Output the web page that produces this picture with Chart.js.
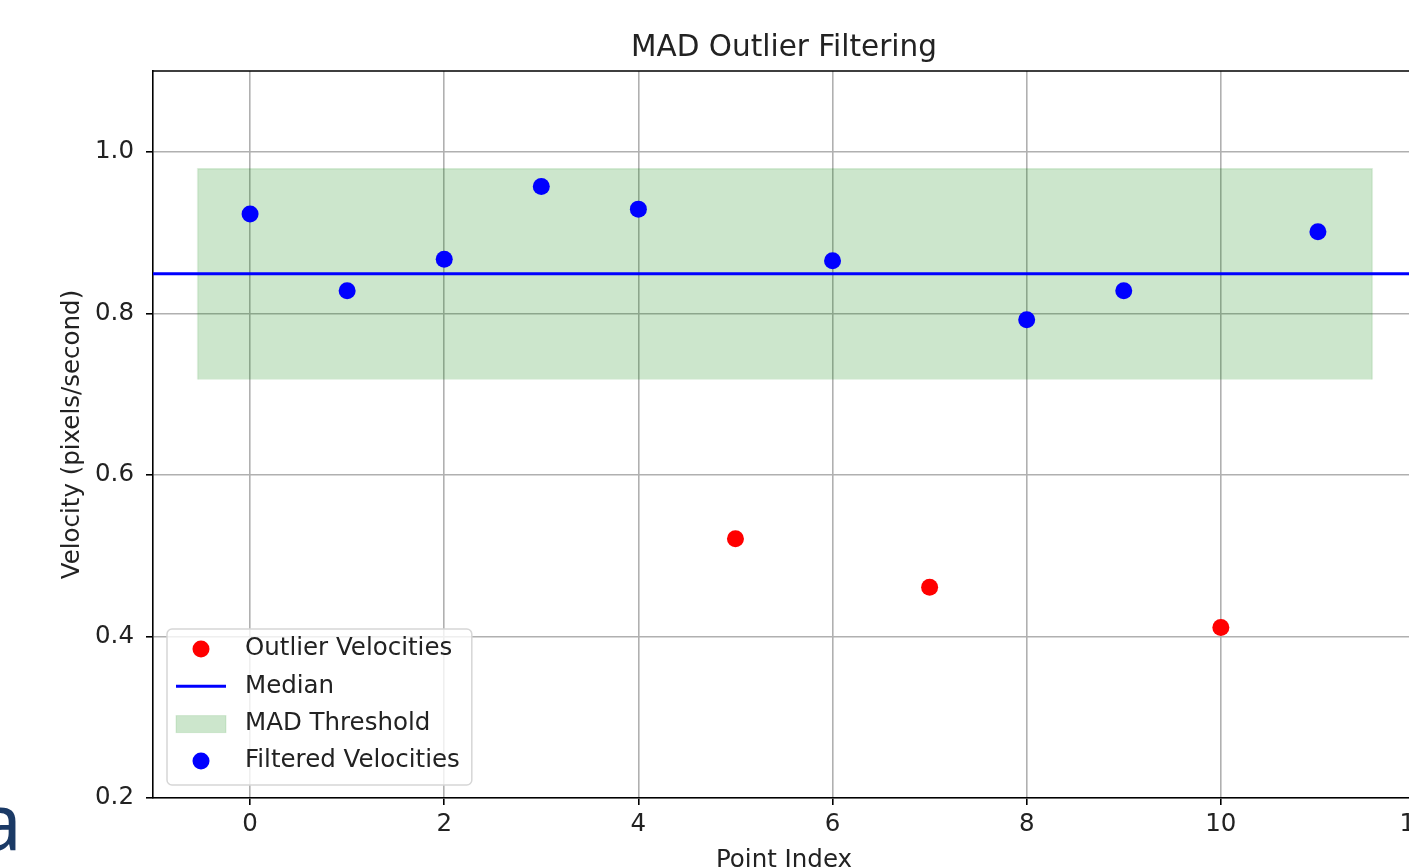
<!DOCTYPE html>
<html>
<head>
<meta charset="utf-8">
<script src="https://cdn.jsdelivr.net/npm/chart.js@4/dist/chart.umd.min.js"></script>
<style>
  html, body { margin: 0; padding: 0; background: #fff; overflow: hidden; width: 1409px; height: 867px; }
  #wrap { position: absolute; left: 0; top: 0; width: 1440px; height: 867px; }
  #stray { position: absolute; left: -22px; top: 781px; font-family: "Noto Sans", sans-serif; font-size: 78px; line-height: 78px; color: #1b3a66; }
</style>
</head>
<body>
<div id="wrap"><canvas id="c" width="1440" height="867"></canvas></div>
<div id="stray">a</div>
<script>
// ---- data ----
const filteredX = [0, 1, 2, 3, 4, 6, 8, 9, 11];
const filteredY = [0.923, 0.828, 0.867, 0.957, 0.929, 0.865, 0.792, 0.828, 0.901];
const outlierX = [5, 7, 10];
const outlierY = [0.521, 0.461, 0.411];
const medianValue = 0.849;
const medianX = [-1, 12];
const madLower = 0.718;
const madUpper = 0.979;
const madX = [-0.54, 11.56];
const xTicks = [0, 2, 4, 6, 8, 10, 12];
const yTicks = [0.2, 0.4, 0.6, 0.8, 1.0];
const xRange = [-1, 12];
const yRange = [0.2, 1.1];
const labels = ["Outlier Velocities", "Median", "MAD Threshold", "Filtered Velocities"];

const FONT = "'DejaVu Sans', sans-serif";
const TXT = '#222';
const FS = 24.5;

const outlierPts = outlierX.map((x, i) => ({x, y: outlierY[i]}));
const filteredPts = filteredX.map((x, i) => ({x, y: filteredY[i]}));
const medianPts = medianX.map(x => ({x, y: medianValue}));
const madPts = [
  {x: madX[0], y: madLower}, {x: madX[0], y: madUpper},
  {x: madX[1], y: madUpper}, {x: madX[1], y: madLower}
];

const spines = {
  id: 'spines',
  afterDatasetsDraw(chart) {
    const {ctx, chartArea: a} = chart;
    ctx.save();
    ctx.strokeStyle = '#000';
    ctx.lineWidth = 1.6;
    ctx.beginPath();
    ctx.moveTo(a.left, a.top); ctx.lineTo(a.right, a.top); ctx.lineTo(a.right, a.bottom);
    ctx.stroke();
    ctx.restore();
  }
};

const boxLegend = {
  id: 'boxLegend',
  afterDraw(chart) {
    const {ctx, chartArea: a} = chart;
    const ds = chart.data.datasets;
    ctx.save();
    ctx.font = FS + 'px ' + FONT;
    const rowH = 37.3;
    let maxW = 0;
    ds.forEach(d => { maxW = Math.max(maxW, ctx.measureText(d.label).width); });
    const w = 78 + maxW + 12;
    const h = 156;
    const x0 = a.left + 14, y1 = a.bottom - 13, y0 = y1 - h;
    ctx.beginPath();
    if (ctx.roundRect) ctx.roundRect(x0, y0, w, h, 5); else ctx.rect(x0, y0, w, h);
    ctx.fillStyle = 'rgba(255,255,255,0.8)';
    ctx.fill();
    ctx.strokeStyle = '#d6d6d6';
    ctx.lineWidth = 1.5;
    ctx.stroke();
    ds.forEach((d, i) => {
      const cy = y0 + 20 + rowH * i;
      const hx = x0 + 9, hw = 50;
      if (d.legendKind === 'dot') {
        ctx.beginPath();
        ctx.arc(hx + hw / 2, cy, 8.5, 0, Math.PI * 2);
        ctx.fillStyle = d.backgroundColor;
        ctx.fill();
      } else if (d.legendKind === 'line') {
        ctx.beginPath();
        ctx.moveTo(hx, cy); ctx.lineTo(hx + hw, cy);
        ctx.strokeStyle = d.borderColor;
        ctx.lineWidth = 3;
        ctx.stroke();
      } else {
        ctx.fillStyle = d.backgroundColor;
        ctx.fillRect(hx, cy - 8, hw, 17);
        ctx.strokeStyle = d.borderColor;
        ctx.lineWidth = 1;
        ctx.strokeRect(hx, cy - 8, hw, 17);
      }
      ctx.fillStyle = TXT;
      ctx.textAlign = 'left';
      ctx.textBaseline = 'middle';
      ctx.fillText(d.label, x0 + 78, cy);
    });
    ctx.restore();
  }
};

new Chart(document.getElementById('c'), {
  type: 'line',
  data: {
    datasets: [
      { label: labels[0], data: outlierPts, showLine: false, legendKind: 'dot',
        pointRadius: 8.5, pointHoverRadius: 8.5, pointBackgroundColor: '#ff0000', backgroundColor: '#ff0000',
        pointBorderWidth: 0, borderColor: '#ff0000', order: 1 },
      { label: labels[1], data: medianPts, legendKind: 'line',
        borderColor: '#0000ff', borderWidth: 3, pointRadius: 0, fill: false, order: 3 },
      { label: labels[2], data: madPts, legendKind: 'patch',
        backgroundColor: 'rgba(0,128,0,0.2)', borderColor: 'rgba(0,128,0,0.12)', borderWidth: 1.5,
        pointRadius: 0, fill: {value: madLower}, tension: 0, order: 4 },
      { label: labels[3], data: filteredPts, showLine: false, legendKind: 'dot',
        pointRadius: 8.5, pointHoverRadius: 8.5, pointBackgroundColor: '#0000ff', backgroundColor: '#0000ff',
        pointBorderWidth: 0, borderColor: '#0000ff', order: 2 }
    ]
  },
  options: {
    responsive: false,
    devicePixelRatio: 1,
    animation: false,
    events: [],
    layout: { padding: { left: 0, right: 25, top: 0, bottom: 0 } },
    plugins: {
      legend: { display: false },
      tooltip: { enabled: false },
      title: {
        display: true, text: 'MAD Outlier Filtering', color: TXT, fullSize: false,
        font: { family: FONT, size: 29.5, weight: 'normal', lineHeight: 1.2 },
        padding: { top: 31, bottom: 4.6 }
      }
    },
    scales: {
      x: {
        type: 'linear', min: xRange[0], max: xRange[1],
        afterBuildTicks: s => { s.ticks = xTicks.map(v => ({value: v})); },
        afterFit: s => { s.height = 69; },
        ticks: { color: TXT, font: { family: FONT, size: FS }, padding: 5, maxRotation: 0,
                 callback: v => String(v) },
        grid: { color: '#b0b0b0', lineWidth: 1.6, tickColor: '#000', tickWidth: 1.6, tickLength: 7, drawOnChartArea: true },
        border: { color: '#000', width: 1.6 },
        title: { display: true, text: 'Point Index', color: TXT,
                 font: { family: FONT, size: FS, lineHeight: 0.8 }, padding: { top: 0, bottom: -3 } }
      },
      y: {
        type: 'linear', min: yRange[0], max: yRange[1],
        afterBuildTicks: s => { s.ticks = yTicks.map(v => ({value: v})); },
        afterFit: s => { s.width = 153; },
        ticks: { color: TXT, font: { family: FONT, size: FS }, padding: 12,
                 callback: v => Number(v).toFixed(1) },
        grid: { color: '#b0b0b0', lineWidth: 1.6, tickColor: '#000', tickWidth: 1.6, tickLength: 7 },
        border: { color: '#000', width: 1.6 },
        title: { display: true, text: 'Velocity (pixels/second)', color: TXT,
                 font: { family: FONT, size: FS, lineHeight: 1.2 }, padding: { top: 58, bottom: 0 } }
      }
    }
  },
  plugins: [spines, boxLegend]
});
</script>
</body>
</html>
